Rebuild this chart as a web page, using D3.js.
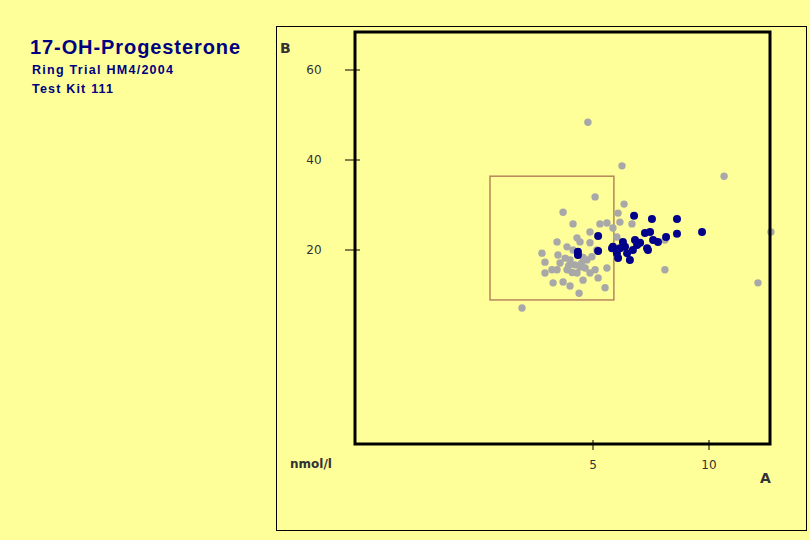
<!DOCTYPE html>
<html>
<head>
<meta charset="utf-8">
<script src="https://cdn.jsdelivr.net/npm/d3@7"></script>
<style>body{margin:0;background:#ffff99;}</style>
</head>
<body>
<script>
var w = 810, h = 540;

// data (A = x, B = y)
var grayX = [4.78,6.25,10.65,5.09,6.34,3.71,4.14,5.30,5.60,6.08,6.16,6.68,4.87,4.31,3.45,4.44,2.80,3.49,3.88,4.87,5.17,2.93,3.58,4.01,4.44,4.74,5.09,5.60,2.93,3.45,3.88,4.31,4.87,3.28,3.71,4.01,4.57,5.22,5.52,4.40,1.94,8.10,12.11,12.67,8.10,6.03,5.86,4.14,4.57,4.22,4.66,3.80,3.23,4.10,4.50,4.95,3.95];
var grayY = [48.4,38.7,36.4,31.8,30.2,28.4,25.8,25.8,26.0,28.2,26.2,25.8,24.0,22.7,21.8,21.8,19.3,18.9,20.7,21.6,20.0,17.3,17.1,17.8,16.2,17.8,15.6,16.0,14.9,15.6,15.6,14.9,14.9,12.7,12.9,12.0,13.3,13.8,11.6,10.4,7.1,15.6,12.7,24.0,22.2,22.9,24.9,20.0,18.4,16.7,16.0,18.2,15.6,15.0,17.0,18.5,16.5];
var blueX = [6.77,7.54,8.62,9.70,8.62,8.15,7.46,7.24,5.22,4.35,4.35,5.22,5.86,6.16,6.29,6.81,7.03,7.33,7.59,7.80,6.03,6.47,6.08,6.59,6.72,7.37,5.82,6.38,6.90];
var blueY = [27.6,26.9,26.9,24.0,23.6,22.9,24.0,23.8,23.1,19.6,18.9,19.8,20.7,20.4,21.8,22.2,21.6,20.4,22.2,21.8,19.3,19.3,18.2,17.8,20.0,20.0,20.4,20.7,21.1];
var boxA = [0.56, 5.9], boxB = [8.9, 36.4];
var xTicks = [5, 10], yTicks = [20, 40, 60];

var svg = d3.select("body").append("svg").attr("width", w).attr("height", h);

var x = d3.scaleLinear().domain([5, 10]).range([593, 709]);
var y = d3.scaleLinear().domain([20, 40]).range([250, 160]);

// title
var t = svg.append("g").attr("font-family", "Liberation Sans, Arial, sans-serif").attr("font-weight", "bold").attr("fill", "#000080");
t.append("text").attr("x", 30).attr("y", 54).attr("font-size", 20).attr("textLength", 210).text("17-OH-Progesterone");
t.append("text").attr("x", 32).attr("y", 74).attr("font-size", 12.5).attr("textLength", 141).text("Ring Trial  HM4/2004");
t.append("text").attr("x", 32).attr("y", 93).attr("font-size", 12.5).attr("textLength", 81).text("Test Kit 111");

// outer frame
svg.append("rect").attr("x", 276.5).attr("y", 26.5).attr("width", 530).attr("height", 504)
  .attr("fill", "none").attr("stroke", "#000").attr("stroke-width", 1);

// box
svg.append("rect").attr("x", x(boxA[0])).attr("y", y(boxB[1]))
  .attr("width", x(boxA[1]) - x(boxA[0])).attr("height", y(boxB[0]) - y(boxB[1]))
  .attr("fill", "none").attr("stroke", "#b8865a").attr("stroke-width", 1.5);

// points
svg.selectAll("circle.g").data(grayX).enter().append("circle")
  .attr("cx", function(d){ return x(d); })
  .attr("cy", function(d, i){ return y(grayY[i]); })
  .attr("r", 3.7).attr("fill", "#a8a8a8");
svg.selectAll("circle.b").data(blueX).enter().append("circle")
  .attr("cx", function(d){ return x(d); })
  .attr("cy", function(d, i){ return y(blueY[i]); })
  .attr("r", 4).attr("fill", "#00008b");

// plot frame
svg.append("rect").attr("x", 355).attr("y", 32).attr("width", 415).attr("height", 412)
  .attr("fill", "none").attr("stroke", "#000").attr("stroke-width", 3);

// ticks and labels
var lab = svg.append("g").attr("font-family", "DejaVu Sans, sans-serif").attr("font-size", 12).attr("fill", "#333");
yTicks.forEach(function(v){
  svg.append("line").attr("x1", 345).attr("x2", 360).attr("y1", y(v)).attr("y2", y(v)).attr("stroke", "#000");
  lab.append("text").attr("x", 314).attr("y", y(v)).attr("dy", "0.35em").attr("text-anchor", "middle").text(v);
});
xTicks.forEach(function(v){
  svg.append("line").attr("x1", x(v)).attr("x2", x(v)).attr("y1", 440).attr("y2", 450).attr("stroke", "#000");
  lab.append("text").attr("x", x(v)).attr("y", 469).attr("text-anchor", "middle").text(v);
});
lab.append("text").attr("x", 290).attr("y", 468).attr("font-weight", "bold").text("nmol/l");
lab.append("text").attr("x", 760).attr("y", 483).attr("font-weight", "bold").attr("font-size", 14).text("A");
lab.append("text").attr("x", 280).attr("y", 53).attr("font-weight", "bold").attr("font-size", 14).text("B");
</script>
</body>
</html>
